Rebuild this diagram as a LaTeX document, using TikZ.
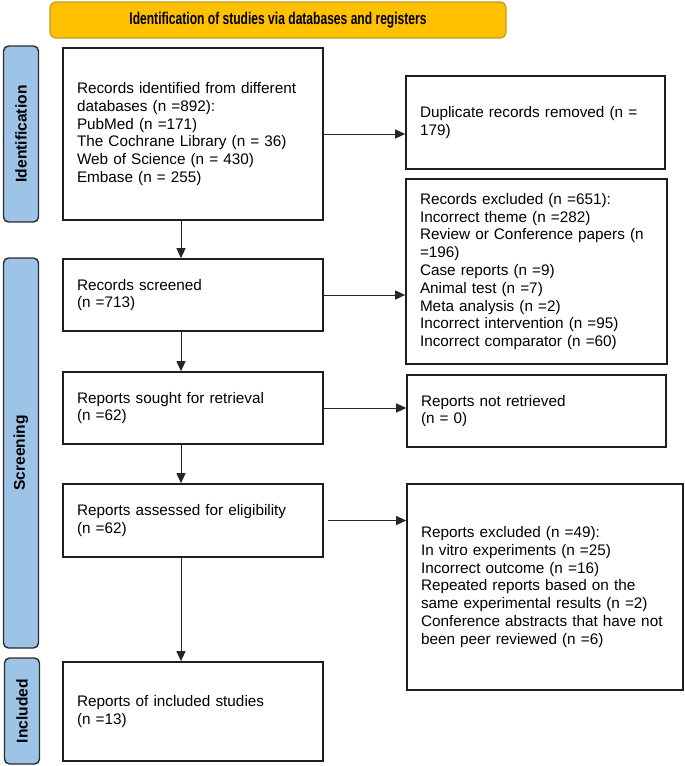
\documentclass[tikz,border=0pt]{standalone}
\usepackage{fontspec}
\setmainfont{Liberation Sans}
\newfontfamily\headfont[FakeStretch=0.71]{Liberation Sans}
\usetikzlibrary{arrows.meta}
\definecolor{headOrange}{HTML}{FFC000}
\definecolor{headEdge}{HTML}{C49A1C}
\definecolor{phaseBlue}{HTML}{9DC3E6}
\definecolor{phaseEdge}{HTML}{2B2B2B}
\definecolor{boxEdge}{HTML}{1E1E1E}

\tikzset{
  box/.style={draw=boxEdge, line width=1.6pt, fill=white, align=left,
    inner xsep=14pt, font=\fontsize{15.3}{17.8}\selectfont},
  phase/.style={draw=phaseEdge, line width=1.4pt, fill=phaseBlue,
    rounded corners=5pt, rotate=90, minimum height=35pt,
    font=\fontsize{15.6}{18}\selectfont\bfseries},
  header/.style={draw=headEdge, line width=1.2pt, fill=headOrange,
    rounded corners=6pt, minimum width=456pt, minimum height=36pt,
    font=\fontsize{17}{20}\selectfont\headfont\bfseries},
  flow/.style={-{Triangle[length=10pt,width=9pt]}, line width=0.9pt, draw=black!85},
}

\begin{document}
\begin{tikzpicture}[x=1pt, y=-1pt]
\useasboundingbox (0,0) rectangle (685,766);

\node[header] (head) at (278,20) {Identification of studies via databases and registers};

% phases
\node[phase, minimum width=176pt] (idbar) at (21,134) {Identification};
\node[phase, minimum width=390pt] (scbar) at (21,453) {Screening};
\node[phase, minimum width=106pt] (inbar) at (22,711) {Included};

% left column
\node[box, text width=232pt, minimum height=172pt] (ident) at (193,134)
  {Records identified from different\\databases (n =892):\\PubMed (n =171)\\The Cochrane Library (n = 36)\\Web of Science (n = 430)\\Embase (n = 255)};
\node[box, text width=232pt, minimum height=72pt] (screened) at (193,295)
  {Records screened\\(n =713)};
\node[box, text width=232pt, minimum height=72pt] (sought) at (193,408)
  {Reports sought for retrieval\\(n =62)};
\node[box, text width=232pt, minimum height=73pt] (assessed) at (193,520.5)
  {Reports assessed for eligibility\\(n =62)};
\node[box, text width=232pt, minimum height=99pt] (incl) at (193,711.5)
  {Reports of included studies\\(n =13)};

% right column
\node[box, text width=231pt, minimum height=93pt] (dup) at (535.5,122.5)
  {Duplicate records removed (n =\\179)};
\node[box, text width=233pt, minimum height=185pt] (recexcl) at (536.5,271.5)
  {Records excluded (n =651):\\Incorrect theme (n =282)\\Review or Conference papers (n\\=196)\\Case reports (n =9)\\Animal test (n =7)\\Meta analysis (n =2)\\Incorrect intervention (n =95)\\Incorrect comparator (n =60)};
\node[box, text width=231pt, minimum height=72pt] (notret) at (536.5,411)
  {Reports not retrieved\\(n = 0)};
\node[box, text width=248pt, minimum height=206pt] (repexcl) at (545,587)
  {Reports excluded (n =49):\\In vitro experiments (n =25)\\Incorrect outcome (n =16)\\Repeated reports based on the\\same experimental results (n =2)\\Conference abstracts that have not\\been peer reviewed (n =6)};

\coordinate (spine) at (181,0);

\draw[flow] (ident.south -| spine) -- (screened.north -| spine);
\draw[flow] (screened.south -| spine) -- (sought.north -| spine);
\draw[flow] (sought.south -| spine) -- (assessed.north -| spine);
\draw[flow] (assessed.south -| spine) -- (incl.north -| spine);

\draw[flow] (ident.east) -- (ident.east -| dup.west);
\draw[flow] (screened.east) -- (screened.east -| recexcl.west);
\draw[flow] (sought.east) -- (sought.east -| notret.west);
\draw[flow, shorten <=4pt] (assessed.east) -- (assessed.east -| repexcl.west);

\end{tikzpicture}
\end{document}
